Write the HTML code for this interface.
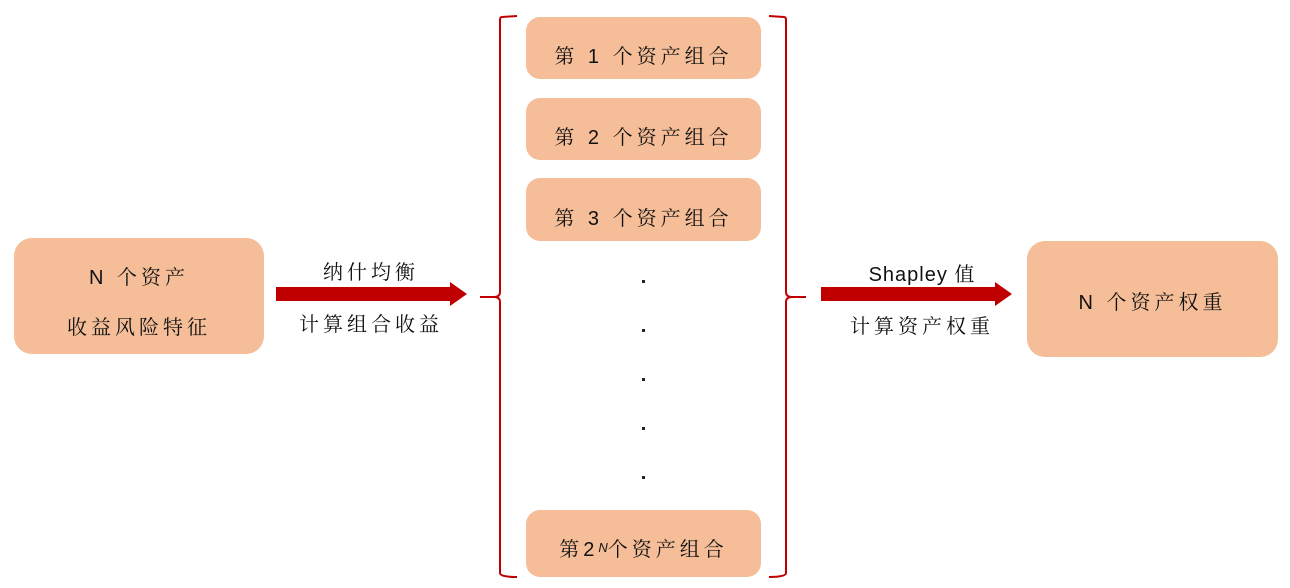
<!DOCTYPE html>
<html><head><meta charset="utf-8"><style>
body{margin:0;width:1290px;height:588px;background:#fff;position:relative;overflow:hidden;font-family:"Liberation Sans","Noto Serif CJK SC",serif;color:#111}
.b{position:absolute;background:#F5BE98;border-radius:14px;display:flex;align-items:center;justify-content:center;font-size:20px;letter-spacing:4px;text-align:center;box-sizing:border-box}
.m{padding-top:13px}
.t{position:absolute;font-size:20px;letter-spacing:4px;white-space:nowrap;transform:translateX(-50%)}
.d{position:absolute;width:3px;height:3px;background:#222;left:642px}
</style></head><body>
<div class="b" style="left:14px;top:238px;width:250px;height:116px;line-height:50px;border-radius:18px;padding-top:14px">N 个资产<br>收益风险特征</div>
<div class="b m" style="left:526px;top:17px;width:235px;height:62px">第 1 个资产组合</div>
<div class="b m" style="left:526px;top:98px;width:235px;height:62px">第 2 个资产组合</div>
<div class="b m" style="left:526px;top:178px;width:235px;height:63px">第 3 个资产组合</div>
<div class="b" style="left:526px;top:510px;width:235px;height:67px;padding-top:8px">第2<sup style="font-size:13px;font-style:italic;letter-spacing:0">N</sup>个资产组合</div>
<div class="b" style="left:1027px;top:241px;width:251px;height:116px;border-radius:18px;padding-top:2px">N 个资产权重</div>
<div class="d" style="top:280px"></div><div class="d" style="top:329px"></div><div class="d" style="top:378px"></div><div class="d" style="top:427px"></div><div class="d" style="top:476px"></div>
<svg width="1290" height="588" style="position:absolute;left:0;top:0">
<polygon points="276,287 450,287 450,282 467,294 450,306 450,301 276,301" fill="#C00000"/>
<polygon points="821,287 995,287 995,282 1012,294 995,306 995,301 821,301" fill="#C00000"/>
<path d="M517,16 L502,17 Q500,17 500,20 L500,292 Q500,297 494,297 L480,297 M494,297 Q500,297 500,302 L500,573 Q500,577 517,577" fill="none" stroke="#C00000" stroke-width="2"/>
<path d="M769,16 L784,17 Q786,17 786,20 L786,292 Q786,297 792,297 L806,297 M792,297 Q786,297 786,302 L786,573 Q786,577 769,577" fill="none" stroke="#C00000" stroke-width="2"/>
</svg>
<div class="t" style="left:371px;top:256px">纳什均衡</div>
<div class="t" style="left:371px;top:308px">计算组合收益</div>
<div class="t" style="left:922px;top:258px;letter-spacing:1px">Shapley 值</div>
<div class="t" style="left:922px;top:310px">计算资产权重</div>
</body></html>
